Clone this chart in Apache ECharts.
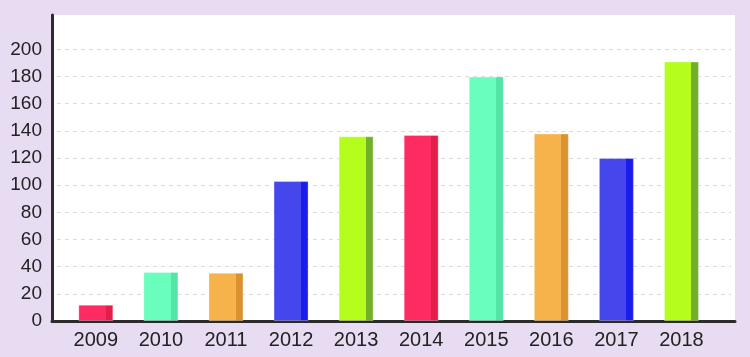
<!DOCTYPE html>
<html>
<head>
<meta charset="utf-8">
<script src="https://cdn.jsdelivr.net/npm/echarts@6/dist/echarts.min.js"></script>
<style>
html,body{margin:0;padding:0;background:#e8dcf2;}
#chart{width:750px;height:357px;}
</style>
</head>
<body>
<div id="chart"></div>
<script>
const years = ['2009','2010','2011','2012','2013','2014','2015','2016','2017','2018'];
const values = [12, 36, 35.5, 103, 136, 137, 180, 138, 120, 191];
const yTicks = { min: 0, max: 200, interval: 20 };

const frontColors = ['#fe2a62', '#69fdbe', '#f6b24b', '#4546ec', '#b5fd1c'];
const sideColors  = ['#e41d4a', '#52e5a4', '#da912f', '#1b1ded', '#72b02a'];

const chart = echarts.init(document.getElementById('chart'), null, {renderer: 'canvas'});

const barData = values.map((v, i) => {
  const f = frontColors[i % 5], s = sideColors[i % 5];
  return {
    value: v,
    itemStyle: {
      color: new echarts.graphic.LinearGradient(0, 0, 1, 0, [
        {offset: 0, color: f},
        {offset: 0.785, color: f},
        {offset: 0.785, color: s},
        {offset: 1, color: s}
      ]),
      borderColor: 'rgba(255,255,255,0.3)',
      borderWidth: 1
    }
  };
});

const font = '"Liberation Sans", Arial, Helvetica, sans-serif';

chart.setOption({
  backgroundColor: '#e8dcf2',
  animation: false,
  grid: [
    {left: 52, right: 15, top: 15, bottom: 35.5, show: true, backgroundColor: '#ffffff', borderWidth: 0},
    {left: 57, right: 19, top: 49.3, bottom: 36},
    {left: 63.3, right: 36, top: 49.3, bottom: 36}
  ],
  xAxis: [
    {gridIndex: 0, type: 'value', min: 0, max: 1,
     axisLine: {show: true, lineStyle: {color: '#2b2b2b', width: 3}},
     axisTick: {show: false}, axisLabel: {show: false}, splitLine: {show: false}},
    {gridIndex: 1, type: 'value', min: 0, max: 1, show: false},
    {gridIndex: 2, type: 'category', data: years,
     axisLine: {show: false}, axisTick: {show: false},
     axisLabel: {color: '#222', fontSize: 20, fontFamily: font, margin: 9}}
  ],
  yAxis: [
    {gridIndex: 0, type: 'value', min: 0, max: 1,
     axisLine: {show: true, lineStyle: {color: '#2b2b2b', width: 3}},
     axisTick: {show: false}, axisLabel: {show: false}, splitLine: {show: false}},
    {gridIndex: 1, type: 'value', min: yTicks.min, max: yTicks.max, interval: yTicks.interval,
     axisLine: {show: false}, axisTick: {show: false},
     axisLabel: {color: '#222', fontSize: 19, fontFamily: font, margin: 15},
     splitLine: {show: true, showMinLine: false, lineStyle: {color: '#d6dcdc', type: [4, 4], width: 1}}},
    {gridIndex: 2, type: 'value', min: yTicks.min, max: yTicks.max, show: false}
  ],
  series: [{
    type: 'bar',
    xAxisIndex: 2,
    yAxisIndex: 2,
    barWidth: 35,
    data: barData
  }]
});
</script>
</body>
</html>
